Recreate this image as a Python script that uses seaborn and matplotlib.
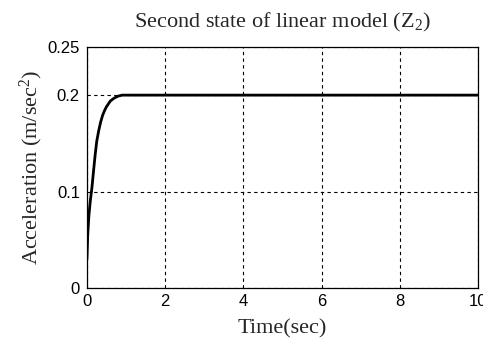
import matplotlib
matplotlib.use("Agg")
import matplotlib.pyplot as plt
import seaborn as sns
import pandas as pd

time_sec = [0.0, 0.02, 0.05, 0.08, 0.10, 0.13, 0.17, 0.21, 0.25, 0.30, 0.35,
            0.40, 0.45, 0.50, 0.60, 0.70, 0.80, 0.90, 1.00, 10.0]
accel = [0.030, 0.055, 0.075, 0.088, 0.095, 0.105, 0.122, 0.138, 0.152, 0.163, 0.172,
         0.179, 0.184, 0.188, 0.194, 0.197, 0.199, 0.200, 0.200, 0.200]
x_ticks = [0, 2, 4, 6, 8, 10]
y_ticks = [0, 0.1, 0.2, 0.25]
y_tick_labels = ["0", "0.1", "0.2", "0.25"]

sns.set_style("white")
plt.rcParams["font.family"] = ["Liberation Sans", "DejaVu Sans"]
plt.rcParams["mathtext.fontset"] = "custom"
plt.rcParams["mathtext.rm"] = "Liberation Serif"
plt.rcParams["mathtext.it"] = "Liberation Serif:italic"

df = pd.DataFrame({"t": time_sec, "a": accel})

fig = plt.figure(figsize=(4.83, 3.4), dpi=100)
ax = fig.add_axes([0.180, 0.153, 0.810, 0.709])
sns.lineplot(data=df, x="t", y="a", ax=ax, color="black", linewidth=2.0)

ax.set_xlim(0, 10)
ax.set_ylim(0, 0.25)
ax.set_xticks(x_ticks)
ax.set_xticklabels([str(v) for v in x_ticks])
ax.set_yticks(y_ticks)
ax.set_yticklabels(y_tick_labels)
ax.tick_params(direction="in", length=3, labelsize=12, colors="black")
ax.tick_params(axis="x", pad=4)
ax.tick_params(axis="y", pad=5)
ax.grid(True, color="black", linestyle=(0, (3, 3)), linewidth=0.8)
for s in ax.spines.values():
    s.set_color("black")
    s.set_linewidth(0.9)
    s.set_visible(True)

serif = ["Liberation Serif", "DejaVu Serif"]
ax.set_title(r"Second state of linear model (Z$_{\mathrm{2}}$)", family=serif, fontsize=16, pad=14)
ax.set_xlabel("Time(sec)", family=serif, fontsize=16, labelpad=8)
ax.set_ylabel(r"Acceleration (m/sec$^{\mathrm{2}}$)", family=serif, fontsize=16, labelpad=2)

fig.savefig("out.png", dpi=100)
